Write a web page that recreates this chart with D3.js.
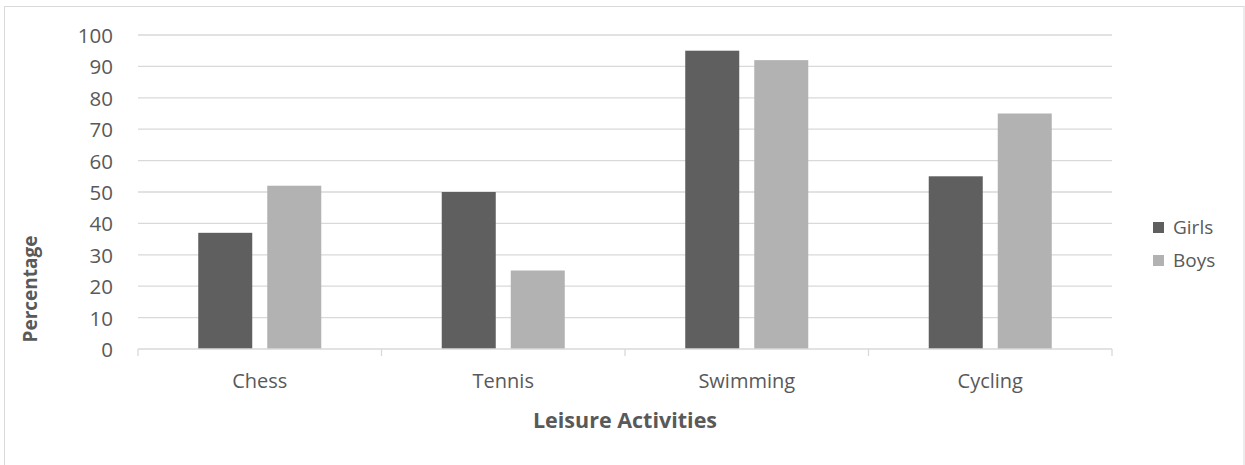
<!DOCTYPE html>
<html>
<head>
<meta charset="utf-8">
<script src="https://cdn.jsdelivr.net/npm/d3@7"></script>
<style>
  html, body { margin: 0; padding: 0; background: #fff; }
  svg { display: block; }
  text { font-family: "Open Sans", "Liberation Sans", sans-serif; fill: #595959; }
</style>
</head>
<body>
<svg id="chart" width="1245" height="465"></svg>
<script>
const categories = ["Chess", "Tennis", "Swimming", "Cycling"];
const seriesNames = ["Girls", "Boys"];
const girls = [37, 50, 95, 55];
const boys = [52, 25, 92, 75];
const yTicks = [0, 10, 20, 30, 40, 50, 60, 70, 80, 90, 100];
const colors = ["#5f5f5f", "#b2b2b2"];

(function () {
const svg = d3.select("#chart");
const pLeft = 138, pRight = 1112, pTop = 35, pBottom = 349;

svg.append("rect").attr("x", 4.5).attr("y", 6.5).attr("width", 1239.5).attr("height", 470)
  .attr("fill", "#fff").attr("stroke", "#d9d9d9").attr("stroke-width", 1);

const x = d3.scaleBand().domain(categories).range([pLeft, pRight]).paddingInner(0).paddingOuter(0);
const xs = d3.scaleBand().domain(seriesNames).range([0, x.bandwidth()])
  .paddingInner(15 / 69).paddingOuter(0.873);
const y = d3.scaleLinear().domain([0, 100]).range([pBottom, pTop]);

// gridlines
svg.append("g").selectAll("line").data(yTicks.filter(d => d > 0)).join("line")
  .attr("x1", pLeft).attr("x2", pRight)
  .attr("y1", d => y(d)).attr("y2", d => y(d))
  .attr("stroke", "#d9d9d9").attr("stroke-width", 1.3);

// y tick labels
svg.append("g").selectAll("text").data(yTicks).join("text")
  .attr("x", 113).attr("y", d => y(d)).attr("text-anchor", "end")
  .attr("dominant-baseline", "central").attr("font-size", 20.5)
  .text(d => d);

// bars
const data = categories.map((c, i) => ({ c, vals: [girls[i], boys[i]] }));
const groups = svg.append("g").selectAll("g").data(data).join("g")
  .attr("transform", d => `translate(${x(d.c)},0)`);
groups.selectAll("rect").data(d => d.vals.map((v, j) => ({ s: seriesNames[j], v, j }))).join("rect")
  .attr("x", d => xs(d.s)).attr("width", xs.bandwidth())
  .attr("y", d => y(d.v)).attr("height", d => y(0) - y(d.v))
  .attr("fill", d => colors[d.j]);

// x axis line and ticks
svg.append("line").attr("x1", pLeft).attr("x2", pRight).attr("y1", pBottom).attr("y2", pBottom)
  .attr("stroke", "#d9d9d9").attr("stroke-width", 1.3);
const bounds = categories.map(c => x(c)).concat([pRight]);
svg.append("g").selectAll("line").data(bounds).join("line")
  .attr("x1", d => d).attr("x2", d => d).attr("y1", pBottom).attr("y2", pBottom + 7)
  .attr("stroke", "#d9d9d9").attr("stroke-width", 1.3);

// category labels
svg.append("g").selectAll("text").data(categories).join("text")
  .attr("x", d => x(d) + x.bandwidth() / 2).attr("y", 388)
  .attr("text-anchor", "middle").attr("font-size", 20).text(d => d);

// axis titles
svg.append("text").attr("x", (pLeft + pRight) / 2).attr("y", 428)
  .attr("text-anchor", "middle").attr("font-size", 21.5).attr("font-weight", "bold")
  .text("Leisure Activities");
svg.append("text").attr("transform", "translate(37,289) rotate(-90)")
  .attr("text-anchor", "middle").attr("font-size", 19).attr("font-weight", "bold")
  .text("Percentage");

// legend
const leg = svg.append("g").selectAll("g").data(seriesNames).join("g")
  .attr("transform", (d, i) => `translate(1153,${227 + i * 33})`);
leg.append("rect").attr("x", 0).attr("y", -5).attr("width", 11).attr("height", 11)
  .attr("fill", (d, i) => colors[i]);
leg.append("text").attr("x", 20).attr("y", 0).attr("dominant-baseline", "central")
  .attr("font-size", 19).text(d => d);
})();
</script>
</body>
</html>
